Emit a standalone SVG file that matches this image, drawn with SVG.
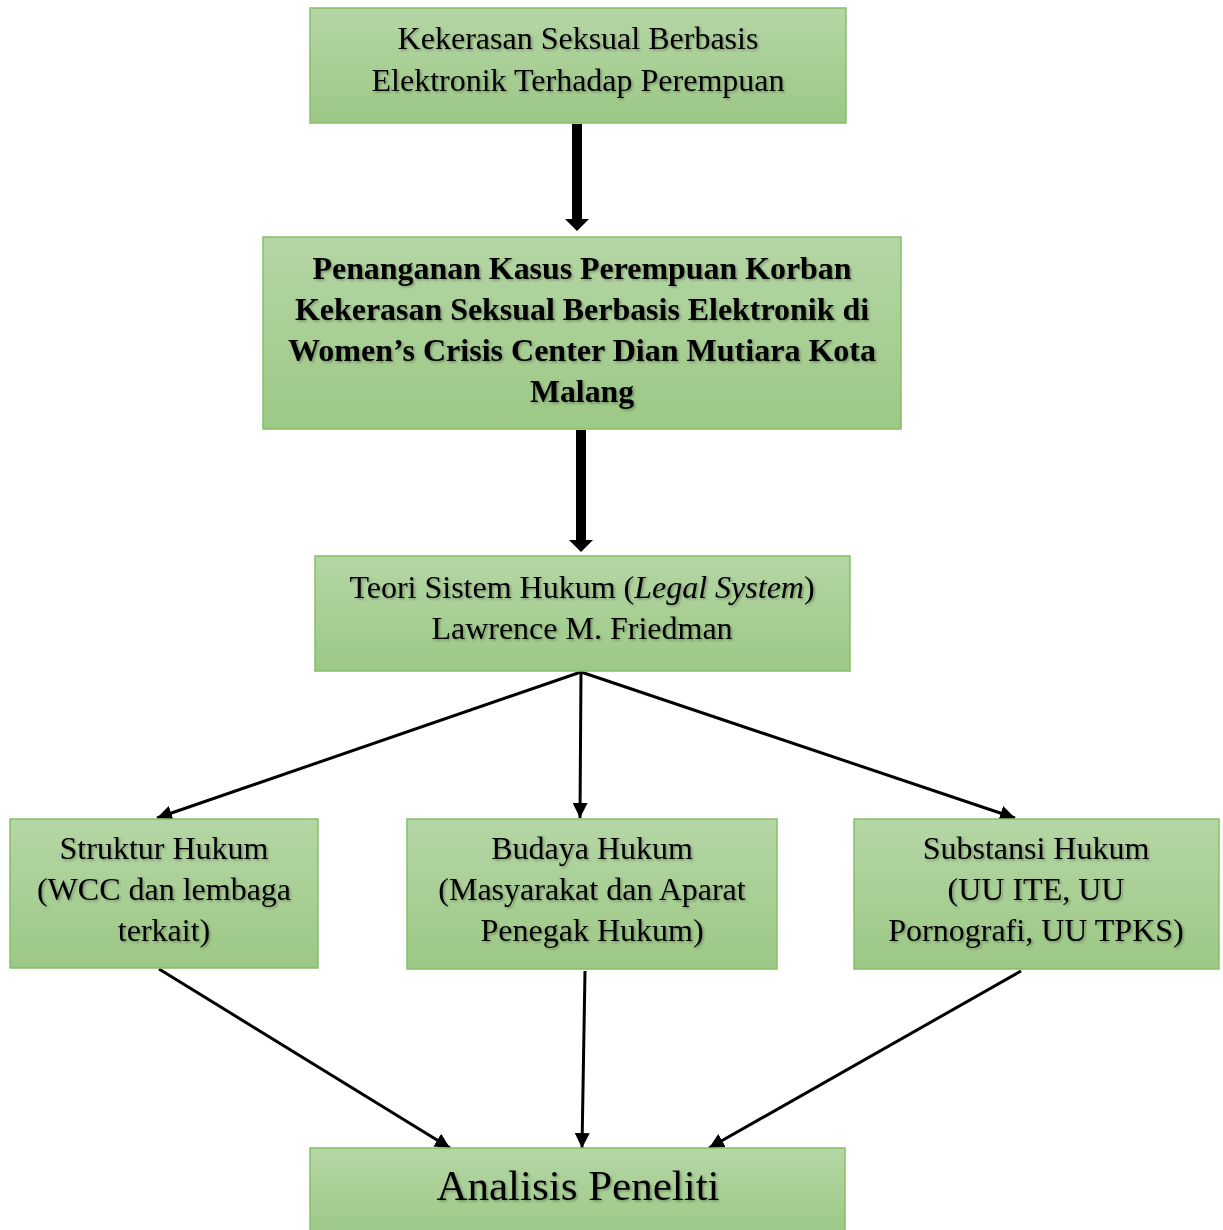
<svg xmlns="http://www.w3.org/2000/svg" width="1223" height="1230" viewBox="0 0 1223 1230">
<defs>
<linearGradient id="g" x1="0" y1="0" x2="0" y2="1">
<stop offset="0" stop-color="#b5d6a5"/>
<stop offset="1" stop-color="#9cc885"/>
</linearGradient>
<filter id="sh" x="-5%" y="-20%" width="110%" height="140%">
<feDropShadow dx="1.5" dy="1.5" stdDeviation="1" flood-color="#000" flood-opacity="0.3"/>
</filter>
<marker id="ah" viewBox="0 0 10 10" refX="10" refY="5" markerWidth="5" markerHeight="5" orient="auto" markerUnits="strokeWidth">
<path d="M0,0 L10,5 L0,10 z" fill="#000"/>
</marker>
<marker id="ahb" viewBox="0 0 6 12" refX="0" refY="6" markerWidth="1.2" markerHeight="2.4" orient="auto" markerUnits="strokeWidth">
<path d="M0,0 L6,6 L0,12 z" fill="#000"/>
</marker>
</defs>
<style>
.box{fill:url(#g);stroke:#86bf66;stroke-width:1.5}
.t{font-family:"Liberation Serif","Times New Roman",serif;font-size:32px;fill:#000;text-anchor:middle;filter:url(#sh)}
.b{font-weight:bold}
.c{stroke:#000;stroke-width:3;fill:none}
.k{stroke:#000;stroke-width:10;fill:none}
</style>
<g id="connectors">
<line class="k" x1="577" y1="124" x2="577" y2="219" marker-end="url(#ahb)"/>
<line class="k" x1="581" y1="430" x2="581" y2="540" marker-end="url(#ahb)"/>
<line class="c" x1="581" y1="672" x2="157" y2="818" marker-end="url(#ah)"/>
<line class="c" x1="581" y1="672" x2="580" y2="818" marker-end="url(#ah)"/>
<line class="c" x1="581" y1="672" x2="1015" y2="818" marker-end="url(#ah)"/>
<line class="c" x1="159" y1="969" x2="450" y2="1148" marker-end="url(#ah)"/>
<line class="c" x1="585" y1="971" x2="582" y2="1148" marker-end="url(#ah)"/>
<line class="c" x1="1021" y1="971" x2="709" y2="1148" marker-end="url(#ah)"/>
</g>
<g id="n1">
<rect class="box" x="310" y="8" width="536" height="115"/>
<text class="t" x="578" y="49">Kekerasan Seksual Berbasis</text>
<text class="t" x="578" y="91">Elektronik Terhadap Perempuan</text>
</g>
<g id="n2">
<rect class="box" x="263" y="237" width="638" height="192"/>
<text class="t b" x="582" y="279" textLength="539" lengthAdjust="spacingAndGlyphs">Penanganan Kasus Perempuan Korban</text>
<text class="t b" x="582" y="320" textLength="574" lengthAdjust="spacingAndGlyphs">Kekerasan Seksual Berbasis Elektronik di</text>
<text class="t b" x="582" y="361" textLength="588" lengthAdjust="spacingAndGlyphs">Women’s Crisis Center Dian Mutiara Kota</text>
<text class="t b" x="582" y="402" textLength="104" lengthAdjust="spacingAndGlyphs">Malang</text>
</g>
<g id="n3">
<rect class="box" x="315" y="556" width="535" height="115"/>
<text class="t" x="582" y="598">Teori Sistem Hukum (<tspan font-style="italic">Legal System</tspan>)</text>
<text class="t" x="582" y="639">Lawrence M. Friedman</text>
</g>
<g id="n4">
<rect class="box" x="10" y="819" width="308" height="149"/>
<text class="t" x="164" y="859">Struktur Hukum</text>
<text class="t" x="164" y="900">(WCC dan lembaga</text>
<text class="t" x="164" y="941">terkait)</text>
</g>
<g id="n5">
<rect class="box" x="407" y="819" width="370" height="150"/>
<text class="t" x="592" y="859">Budaya Hukum</text>
<text class="t" x="592" y="900">(Masyarakat dan Aparat</text>
<text class="t" x="592" y="941">Penegak Hukum)</text>
</g>
<g id="n6">
<rect class="box" x="854" y="819" width="365" height="150"/>
<text class="t" x="1036" y="859">Substansi Hukum</text>
<text class="t" x="1036" y="900">(UU ITE, UU</text>
<text class="t" x="1036" y="941">Pornografi, UU TPKS)</text>
</g>
<g id="n7">
<rect class="box" x="310" y="1148" width="535" height="90"/>
<text class="t" x="578" y="1200" style="font-size:43px">Analisis Peneliti</text>
</g>
</svg>
